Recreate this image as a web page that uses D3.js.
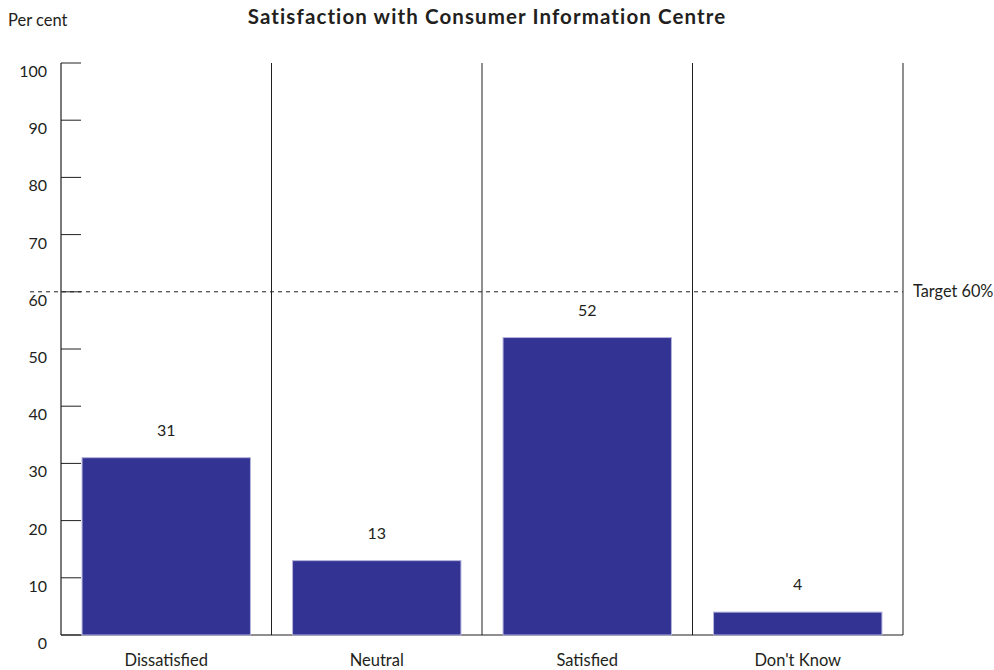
<!DOCTYPE html>
<html>
<head>
<meta charset="utf-8">
<script src="https://cdn.jsdelivr.net/npm/d3@7"></script>
<style>
  html, body { margin: 0; padding: 0; background: #fff; }
  svg text { font-family: Lato, "Open Sans", sans-serif; fill: #231f20; }
</style>
</head>
<body>
<svg id="chart" width="994" height="670"></svg>
<script>
const categories = ["Dissatisfied", "Neutral", "Satisfied", "Don't Know"];
const values = [31, 13, 52, 4];
const yTicks = [0, 10, 20, 30, 40, 50, 60, 70, 80, 90, 100];
const target = 60;
const targetLabel = "Target 60%";
const title = "Satisfaction with Consumer Information Centre";
const yAxisTitle = "Per cent";

const svg = d3.select("#chart");
const plotLeft = 61, plotRight = 903, plotTop = 63, plotBottom = 635;

const x = d3.scaleBand().domain(categories).range([plotLeft, plotRight]).paddingInner(0.2).paddingOuter(0.1);
const band = d3.scaleBand().domain(categories).range([plotLeft, plotRight]).padding(0);
const y = d3.scaleLinear().domain([0, 100]).range([plotBottom, plotTop]);

// title and axis caption
svg.append("text").attr("x", 487).attr("y", 24).attr("text-anchor", "middle")
  .style("font-size", "20.5px").style("font-weight", "bold").style("letter-spacing", "1.1px").text(title);
svg.append("text").attr("x", 8).attr("y", 26).style("font-size", "16.5px").text(yAxisTitle);

// y axis line and inward ticks
svg.append("line").attr("x1", plotLeft).attr("x2", plotLeft).attr("y1", plotTop).attr("y2", plotBottom)
  .attr("stroke", "#231f20").attr("stroke-width", 1.2);
svg.selectAll(".ytick").data(yTicks).join("line")
  .attr("x1", plotLeft).attr("x2", plotLeft + 20)
  .attr("y1", d => y(d)).attr("y2", d => y(d))
  .attr("stroke", "#231f20").attr("stroke-width", 1);
svg.selectAll(".ylab").data(yTicks).join("text")
  .attr("x", 47).attr("y", d => y(d) + 14)
  .attr("text-anchor", "end").style("font-size", "16px").text(d => d);

// band separators
svg.selectAll(".sep").data(categories).join("line")
  .attr("x1", d => band(d) + band.bandwidth()).attr("x2", d => band(d) + band.bandwidth())
  .attr("y1", plotTop).attr("y2", plotBottom)
  .attr("stroke", "#231f20").attr("stroke-width", 1);

// baseline
svg.append("line").attr("x1", plotLeft).attr("x2", plotRight).attr("y1", plotBottom).attr("y2", plotBottom)
  .attr("stroke", "#231f20").attr("stroke-width", 1.2);

// target line
svg.append("line").attr("x1", 30).attr("x2", plotRight).attr("y1", y(target)).attr("y2", y(target))
  .attr("stroke", "#231f20").attr("stroke-width", 1).attr("stroke-dasharray", "4,4");
svg.append("text").attr("x", 913).attr("y", y(target) + 5).style("font-size", "16.3px").text(targetLabel);

// bars
svg.selectAll(".bar").data(values).join("rect")
  .attr("x", (d, i) => x(categories[i]))
  .attr("width", x.bandwidth())
  .attr("y", d => y(d))
  .attr("height", d => plotBottom - y(d))
  .attr("fill", "#333393")
  .attr("stroke", "#b3b3dc").attr("stroke-width", 1);

// value labels
svg.selectAll(".val").data(values).join("text")
  .attr("x", (d, i) => x(categories[i]) + x.bandwidth() / 2)
  .attr("y", d => y(d) - 22)
  .attr("text-anchor", "middle").style("font-size", "16px").text(d => d);

// category labels
svg.selectAll(".cat").data(categories).join("text")
  .attr("x", d => band(d) + band.bandwidth() / 2)
  .attr("y", 666)
  .attr("text-anchor", "middle").style("font-size", "16.5px").text(d => d);
</script>
</body>
</html>
